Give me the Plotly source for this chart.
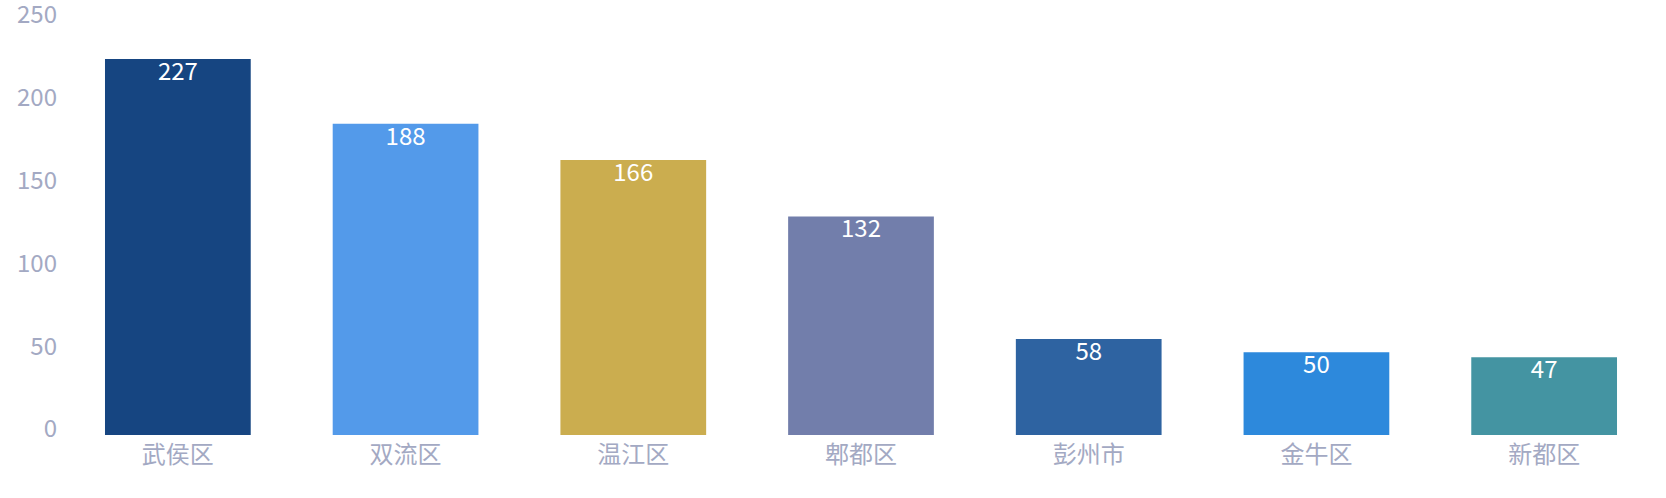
import plotly.graph_objects as go

districts = ["武侯区", "双流区", "温江区", "郫都区", "彭州市", "金牛区", "新都区"]
counts = [227, 188, 166, 132, 58, 50, 47]
bar_colors = ["#164581", "#539aea", "#cbad4f", "#727eab", "#2e63a1", "#2d89dc", "#4494a2"]
y_ticks = [0, 50, 100, 150, 200, 250]

FONT = "Noto Sans CJK SC, Noto Sans, sans-serif"
AXIS_COLOR = "#a3a9c3"

fig = go.Figure()
fig.add_trace(
    go.Bar(
        x=districts,
        y=counts,
        marker=dict(color=bar_colors, line=dict(width=0)),
        width=0.64,
        hoverinfo="skip",
    )
)
fig.add_trace(
    go.Scatter(
        x=districts,
        y=counts,
        mode="markers+text",
        marker=dict(size=3, color="rgba(0,0,0,0)", line=dict(width=0)),
        text=[str(v) for v in counts],
        textposition="bottom center",
        textfont=dict(family=FONT, size=24, color="#ffffff"),
        hoverinfo="skip",
        cliponaxis=False,
    )
)

fig.update_layout(
    width=1666,
    height=498,
    margin=dict(l=64, r=8, t=21, b=63, autoexpand=False),
    paper_bgcolor="#ffffff",
    plot_bgcolor="#ffffff",
    showlegend=False,
    hovermode=False,
    font=dict(family=FONT, size=24, color=AXIS_COLOR),
)
fig.update_xaxes(
    automargin=False,
    showgrid=False,
    showline=False,
    zeroline=False,
    ticks="",
    ticklabelstandoff=3,
    tickfont=dict(family=FONT, size=24, color=AXIS_COLOR),
)
fig.update_yaxes(
    automargin=False,
    range=[0, 250],
    tickvals=y_ticks,
    showgrid=False,
    showline=False,
    zeroline=False,
    ticks="",
    ticklabelshift=-6,
    ticklabelstandoff=6,
    ticklabeloverflow="allow",
    tickfont=dict(family=FONT, size=24, color=AXIS_COLOR),
)

fig.write_html(
    "out.html",
    config={"displayModeBar": False},
    post_script="document.body.style.margin='0';",
)
